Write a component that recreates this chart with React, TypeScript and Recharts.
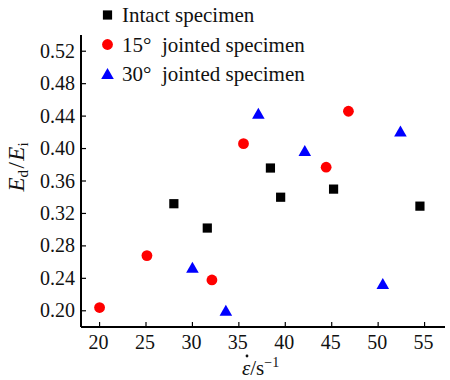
import { ScatterChart, Scatter, XAxis, YAxis, Legend, Label } from 'recharts'

// strain rate (1/s) and dynamic/initial modulus ratio for each specimen group
const intactRate = [28.0, 31.6, 38.4, 39.5, 45.2, 54.5]
const intactRatio = [0.332, 0.302, 0.376, 0.34, 0.35, 0.329]

const joint15Rate = [20.0, 25.1, 32.1, 35.5, 44.4, 46.8]
const joint15Ratio = [0.204, 0.268, 0.238, 0.406, 0.377, 0.446]

const joint30Rate = [30.0, 33.6, 37.1, 42.1, 50.5, 52.4]
const joint30Ratio = [0.253, 0.2, 0.443, 0.397, 0.233, 0.421]

const xTicks = [20, 25, 30, 35, 40, 45, 50, 55]
const yTicks = [0.2, 0.24, 0.28, 0.32, 0.36, 0.4, 0.44, 0.48, 0.52]

const FONT = '"Liberation Serif", "Times New Roman", serif'
const serif = { fontFamily: FONT }

const toPoints = (xs: number[], ys: number[]) => xs.map((x, i) => ({ x, y: ys[i] }))

type DotProps = { cx?: number; cy?: number; fill?: string }

function SquareDot({ cx, cy, fill }: DotProps) {
  if (typeof cx !== 'number' || typeof cy !== 'number') return null
  return <rect x={cx - 4.6} y={cy - 4.6} width={9.2} height={9.2} fill={fill} />
}

function CircleDot({ cx, cy, fill }: DotProps) {
  if (typeof cx !== 'number' || typeof cy !== 'number') return null
  return <circle cx={cx} cy={cy} r={5.4} fill={fill} />
}

function TriangleDot({ cx, cy, fill }: DotProps) {
  if (typeof cx !== 'number' || typeof cy !== 'number') return null
  const pts = `${cx},${cy - 6} ${cx + 6.3},${cy + 5} ${cx - 6.3},${cy + 5}`
  return <polygon points={pts} fill={fill} />
}

// legend marker per series colour, rows kept in series order
const LEGEND_ROWS = [
  { color: '#000000', Marker: SquareDot },
  { color: '#ff0000', Marker: CircleDot },
  { color: '#0000ff', Marker: TriangleDot },
]

type LegendItem = { value?: string; color?: string }

function SpecimenLegend({ payload }: { payload?: LegendItem[] }) {
  const items = payload ?? []
  return (
    <svg width={360} height={92} style={{ display: 'block' }}>
      {LEGEND_ROWS.map((row, i) => {
        const item = items.find((p) => p.color === row.color)
        if (!item) return null
        const cy = 15 + i * 29.5
        return (
          <g key={row.color}>
            <row.Marker cx={107.5} cy={cy} fill={row.color} />
            <text x={122} y={cy + 7} fontSize={21} fill="#111" style={serif}>
              {item.value}
            </text>
          </g>
        )
      })}
    </svg>
  )
}

type TickProps = { x?: number; y?: number; payload?: { value: number } }

function YTick({ x = 0, y = 0, payload }: TickProps) {
  return (
    <text x={x} y={y + 6.6} textAnchor="end" fontSize={20} fill="#111" style={serif}>
      {payload ? payload.value.toFixed(2) : ''}
    </text>
  )
}

function XTick({ x = 0, y = 0, payload }: TickProps) {
  return (
    <text x={x - 1} y={y + 12.5} textAnchor="middle" fontSize={20} fill="#111" style={serif}>
      {payload ? payload.value : ''}
    </text>
  )
}

type Box = { x: number; y: number; width: number; height: number }

function YTitle({ viewBox }: { viewBox?: Box }) {
  if (!viewBox) return null
  const cx = 24
  const cy = viewBox.y + viewBox.height / 2 - 14
  return (
    <text
      x={cx}
      y={cy}
      transform={`rotate(-90, ${cx}, ${cy})`}
      textAnchor="middle"
      fontSize={23}
      fill="#111"
      style={serif}
    >
      <tspan fontStyle="italic">E</tspan>
      <tspan fontSize={15} dy={4}>d</tspan>
      <tspan dx={1.5} dy={-4}>/</tspan>
      <tspan dx={1.5} fontStyle="italic">E</tspan>
      <tspan fontSize={15} dy={4}>i</tspan>
    </text>
  )
}

function XTitle({ viewBox }: { viewBox?: Box }) {
  if (!viewBox) return null
  const x0 = viewBox.x + viewBox.width / 2 - 21
  return (
    <g fill="#111">
      <text x={x0} y={375} fontSize={21} style={serif}>
        <tspan fontStyle="italic">{'\u03b5'}</tspan>
        <tspan>/s</tspan>
        <tspan fontSize={14} dy={-8}>{'\u22121'}</tspan>
      </text>
      {/* rate dot over epsilon */}
      <circle cx={x0 + 5} cy={356} r={1.4} />
    </g>
  )
}

export default function App() {
  return (
    <div
      style={{
        position: 'absolute',
        left: 0,
        top: 0,
        width: 450,
        height: 380,
        background: '#fff',
        fontFamily: FONT,
      }}
    >
      <ScatterChart width={450} height={380} margin={{ top: 35, right: 5, bottom: 0, left: 0 }}>
        <XAxis
          type="number"
          dataKey="x"
          domain={[18, 57.2]}
          ticks={xTicks}
          allowDataOverflow
          height={53}
          tickSize={-5}
          tickMargin={14}
          axisLine={{ stroke: '#000', strokeWidth: 2 }}
          tickLine={{ stroke: '#000', strokeWidth: 1.2 }}
          tick={<XTick />}
        >
          <Label content={<XTitle />} />
        </XAxis>
        <YAxis
          type="number"
          dataKey="y"
          domain={[0.18, 0.54]}
          ticks={yTicks}
          allowDataOverflow
          width={81}
          tickSize={-5}
          tickMargin={11}
          axisLine={{ stroke: '#000', strokeWidth: 2 }}
          tickLine={{ stroke: '#000', strokeWidth: 1.2 }}
          tick={<YTick />}
        >
          <Label content={<YTitle />} />
        </YAxis>
        <Legend
          layout="vertical"
          align="center"
          verticalAlign="middle"
          wrapperStyle={{ top: 0, left: 0, width: 360 }}
          content={<SpecimenLegend />}
        />
        <Scatter
          name="Intact specimen"
          data={toPoints(intactRate, intactRatio)}
          fill="#000000"
          shape={<SquareDot />}
          isAnimationActive={false}
        />
        <Scatter
          name={'15\u00b0\u00a0\u00a0jointed specimen'}
          data={toPoints(joint15Rate, joint15Ratio)}
          fill="#ff0000"
          shape={<CircleDot />}
          isAnimationActive={false}
        />
        <Scatter
          name={'30\u00b0\u00a0\u00a0jointed specimen'}
          data={toPoints(joint30Rate, joint30Ratio)}
          fill="#0000ff"
          shape={<TriangleDot />}
          isAnimationActive={false}
        />
      </ScatterChart>
    </div>
  )
}
